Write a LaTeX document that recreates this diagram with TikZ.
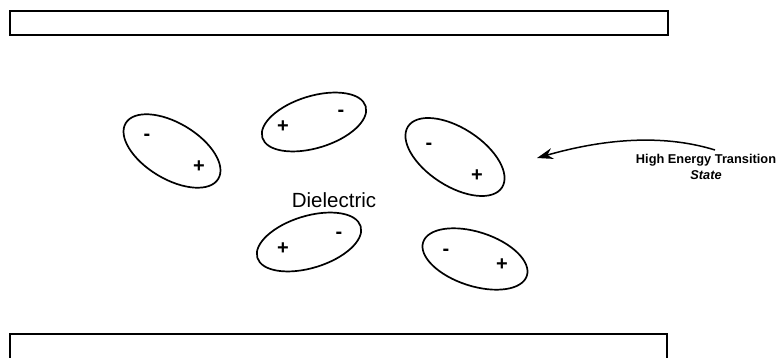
\documentclass[tikz,border=0pt]{standalone}
\usepackage{fontspec}
\setmainfont{Liberation Sans}
\usetikzlibrary{arrows.meta}
\begin{document}
\begin{tikzpicture}[x=1pt,y=-1pt,
  plate/.style={draw,line width=1.5pt},
  dipole/.style={draw,line width=1.7pt},
  charge/.style={font=\bfseries\fontsize{20}{20}\selectfont},
  note/.style={font=\bfseries\fontsize{12.8}{16}\selectfont,align=center}]
\useasboundingbox (0,0) rectangle (780,358);
\clip (0,0) rectangle (780,358);
% electrode plates
\draw[plate] (10,11) rectangle (668,35);
\draw[plate] (10,334) rectangle (667,380);
% polarised molecules
\draw[dipole] (172,151) ellipse[x radius=54,y radius=28,rotate=-31];
\node[charge] (m1) at (147,137) {-};
\node[charge] (p1) at (199,167) {+};
\draw[dipole] (314,122) ellipse[x radius=54,y radius=26,rotate=17];
\node[charge] (p2) at (283,127) {+};
\node[charge] (m2) at (341,113) {-};
\draw[dipole] (455,157) ellipse[x radius=56,y radius=29,rotate=-33];
\node[charge] (m3) at (429,146) {-};
\node[charge] (p3) at (477,176) {+};
\draw[dipole] (309,242) ellipse[x radius=54,y radius=26,rotate=17];
\node[charge] (p4) at (283,249) {+};
\node[charge] (m4) at (339,235) {-};
\draw[dipole] (475,259) ellipse[x radius=54.5,y radius=27,rotate=-18];
\node[charge] (m5) at (446,252) {-};
\node[charge] (p5) at (502,265) {+};
% labels
\node[font=\fontsize{20.5}{24}\selectfont] (diel) at (334,200) {Dielectric};
\node[note] (hets) at (706,167) {High Energy Transition\\\textit{State}};
\coordinate (tail) at (715,150);
\coordinate (head) at (537,158);
\draw[line width=1.5pt,-{Stealth[length=16pt,width=11pt]}] (tail) .. controls (660,133) and (600,140) .. (head);
\end{tikzpicture}
\end{document}
